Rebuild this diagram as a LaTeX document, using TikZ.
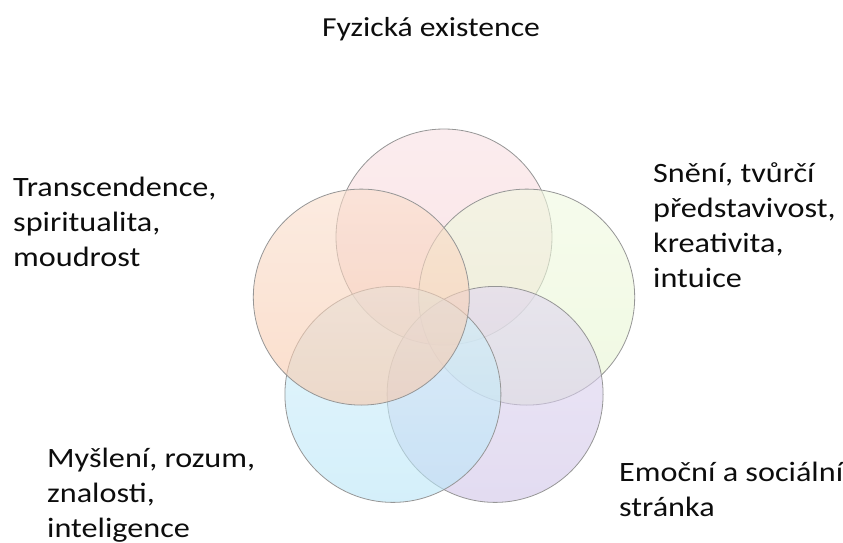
\documentclass[tikz,border=0pt]{standalone}
\usepackage{fontspec}
\setmainfont{Carlito}[FakeStretch=1.15]
\usepackage{tikz}
\usetikzlibrary{positioning}
\definecolor{ringPink}{RGB}{245,208,212}
\definecolor{ringPinkTop}{RGB}{249,224,227}
\definecolor{ringOrange}{RGB}{247,200,170}
\definecolor{ringOrangeTop}{RGB}{250,222,204}
\definecolor{ringGreen}{RGB}{230,244,207}
\definecolor{ringGreenTop}{RGB}{240,249,224}
\definecolor{ringBlue}{RGB}{184,229,247}
\definecolor{ringBlueTop}{RGB}{210,240,250}
\definecolor{ringPurple}{RGB}{208,196,232}
\definecolor{ringPurpleTop}{RGB}{224,216,240}
\definecolor{ringEdge}{RGB}{150,150,150}
\tikzset{ring/.style={circle, draw=ringEdge, line width=0.8pt,
    minimum size=216pt, inner sep=0pt, fill opacity=0.6}}
\tikzset{label text/.style={align=left, inner sep=0pt,
    font=\fontsize{28}{35}\selectfont, text=black!95}}

\begin{document}
\begin{tikzpicture}[x=1pt, y=-1pt]
    \useasboundingbox (0,0) rectangle (843,543);

    \node[ring, top color=ringPinkTop, bottom color=ringPink]
      (Physical) at (444,237) {};
    \node[ring, top color=ringGreenTop, bottom color=ringGreen]
      (Dreams) at (526.7,297.1) {};
    \node[ring, top color=ringPurpleTop, bottom color=ringPurple]
      (Emotions) at (495.1,394.4) {};
    \node[ring, top color=ringBlueTop, bottom color=ringBlue]
      (Mind) at (392.9,394.4) {};
    \node[ring, top color=ringOrangeTop, bottom color=ringOrange]
      (Spirit) at (361.3,297.1) {};

    \node[label text, anchor=base, font=\fontsize{27.5}{33}\selectfont]
      (PhysicalText) at (431,37) {Fyzická existence};
    \node[label text, anchor=north west]
      (SpiritText) at (13,177) {Transcendence,\\spiritualita,\\moudrost};
    \node[label text, anchor=north west]
      (DreamsText) at (653,162) {Snění, tvůrčí\\představivost,\\kreativita,\\intuice};
    \node[label text, anchor=north west]
      (MindText) at (47,448) {Myšlení, rozum,\\znalosti,\\inteligence};
    \node[label text, anchor=north west]
      (EmotionsText) at (619,462) {Emoční a sociální\\stránka};

  \end{tikzpicture}
\end{document}
